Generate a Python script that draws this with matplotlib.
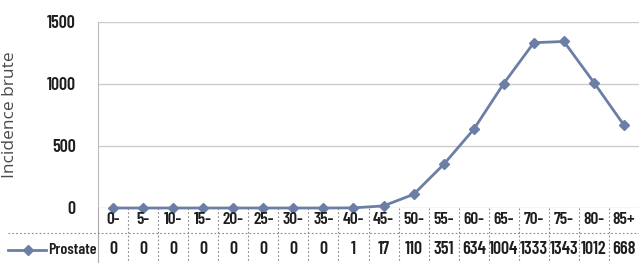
import matplotlib
matplotlib.use("Agg")
import matplotlib.pyplot as plt
import matplotlib.transforms as mtransforms
from matplotlib.lines import Line2D
from matplotlib import font_manager as fm

categories = ["0-", "5-", "10-", "15-", "20-", "25-", "30-", "35-", "40-", "45-",
              "50-", "55-", "60-", "65-", "70-", "75-", "80-", "85+"]
values = [0, 0, 0, 0, 0, 0, 0, 0, 1, 17, 110, 351, 634, 1004, 1333, 1343, 1012, 668]
series_name = "Prostate"
yticks = [0, 500, 1000, 1500]

avail = {f.name for f in fm.fontManager.ttflist}
pref = ["Barlow Condensed", "Oswald", "Roboto Condensed", "Asap Condensed", "Archivo Narrow"]
font = [f for f in pref if f in avail][:1] + ["DejaVu Sans"]
wt = "semibold"

W, H = 639, 263
fig = plt.figure(figsize=(W / 100, H / 100), dpi=100)
fig.patch.set_facecolor("white")

x0, x1 = 98, 639
ytop, ybot = 22, 208
ax = fig.add_axes([x0 / W, (H - ybot) / H, (x1 - x0) / W, (ybot - ytop) / H])

line_color = "#6b7fa6"
txt_color = "#1e1e1e"
n = len(categories)
xs = list(range(n))

ax.plot(xs, values, color=line_color, lw=2, marker="D", ms=5.5,
        markerfacecolor=line_color, markeredgecolor=line_color, clip_on=False, zorder=5)
ax.set_xlim(-0.5, n - 0.5)
ax.set_ylim(0, 1500)
ax.set_yticks(yticks)
ax.set_yticklabels([str(t) for t in yticks], fontfamily=font, fontweight=wt,
                   fontsize=13, color=txt_color)
ax.tick_params(axis="y", length=0, pad=16)
ax.set_xticks([])
ax.grid(axis="y", color="#cccccc", lw=1)
ax.set_axisbelow(True)
for s in ["top", "right", "bottom"]:
    ax.spines[s].set_visible(False)
ax.spines["left"].set_color("#bbbbbb")
ax.set_ylabel("Incidence brute", fontfamily=["Open Sans", "DejaVu Sans"], fontweight="normal",
              fontsize=12.5, color="#4a4a4a")
ax.yaxis.set_label_coords(-0.148, 0.5)

trans = mtransforms.blended_transform_factory(ax.transData, fig.transFigure)
def fy(py):
    return (H - py) / H

for i, c in enumerate(categories):
    fig.text(i, fy(220), c, transform=trans, ha="center", va="center",
             fontfamily=font, fontweight=wt, fontsize=12.5, color=txt_color)
    fig.text(i, fy(249), str(values[i]), transform=trans, ha="center", va="center",
             fontfamily=font, fontweight=wt, fontsize=13, color=txt_color)

sep_kw = dict(color="#888888", lw=0.8, ls=(0, (1.5, 2)))
for i in range(n - 1):
    xb = i + 0.5
    fig.add_artist(Line2D([xb, xb], [fy(208), fy(263)], transform=trans, **sep_kw))
fig.add_artist(Line2D([-0.5, -0.5], [fy(208), fy(263)], transform=trans, color="#aaaaaa", lw=0.8))
fig.add_artist(Line2D([8 / W, x1 / W], [fy(233), fy(233)], transform=fig.transFigure, **sep_kw))

fig.add_artist(Line2D([8 / W, 46 / W], [fy(250), fy(250)], transform=fig.transFigure,
                      color=line_color, lw=2))
fig.add_artist(Line2D([28 / W], [fy(250)], transform=fig.transFigure, marker="D", ms=5.5,
                      color=line_color, lw=0))
fig.text(48 / W, fy(250), series_name, ha="left", va="center", fontfamily=font,
         fontweight=wt, fontsize=11.5, color=txt_color)

fig.savefig("out.png", dpi=100, facecolor="white")
